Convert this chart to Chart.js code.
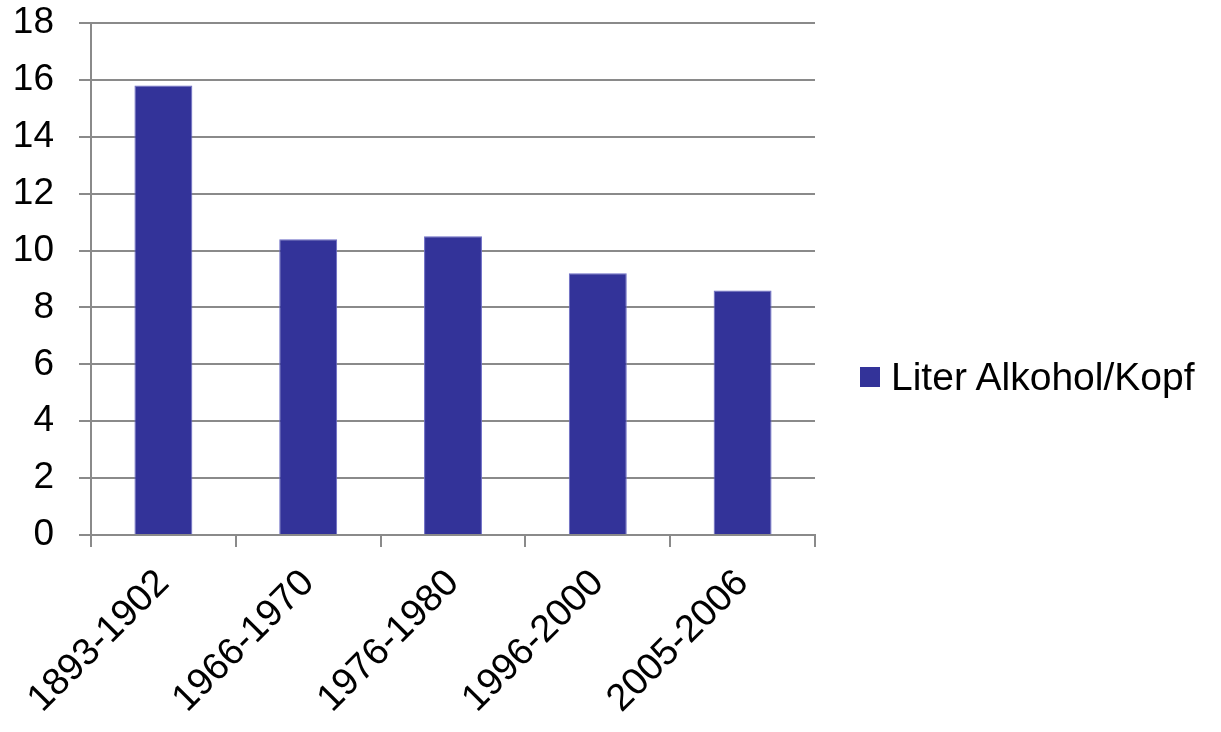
<!DOCTYPE html>
<html>
<head>
<meta charset="utf-8">
<script src="https://cdn.jsdelivr.net/npm/chart.js@4/dist/chart.umd.min.js"></script>
<style>
    html, body { margin: 0; padding: 0; background: #fff; }
    #wrap { position: relative; width: 1221px; height: 732px; }
    #legende {
        position: absolute; left: 860px; top: 357px;
        font: 39px 'Liberation Sans', Arial, sans-serif;
        line-height: 39px; color: #000; white-space: nowrap;
    }
    #legende .kasten {
        position: absolute; left: 0; top: 10px;
        width: 20px; height: 20px; background: #333399;
    }
    #legende .text { position: absolute; left: 31px; top: 0; }
</style>
</head>
<body>
<div id="wrap">
    <canvas id="chartAlkohol"></canvas>
    <div id="legende"><span class="kasten"></span><span class="text"></span></div>
</div>
<script>
// Zeiträume und Verbrauch pro Kopf
const zeitraeume = ['1893-1902', '1966-1970', '1976-1980', '1996-2000', '2005-2006'];
const literProKopf = [15.8, 10.4, 10.5, 9.2, 8.6];
const serieName = 'Liter Alkohol/Kopf';

const FONT = "'Liberation Sans', Arial, sans-serif";
const GRAU = '#8a8a8a';
const BALKEN = '#333399';

document.querySelector('#legende .text').textContent = serieName;

const ctx = document.getElementById('chartAlkohol').getContext('2d');

new Chart(ctx, {
    type: 'bar',
    data: {
        labels: zeitraeume,
        datasets: [{
            label: serieName,
            data: literProKopf,
            backgroundColor: BALKEN,
            borderColor: '#6a6ac4',
            borderWidth: 1,
            barPercentage: 0.4,
            categoryPercentage: 1.0
        }]
    },
    options: {
        responsive: true,
        maintainAspectRatio: false,
        animation: false,
        // rechts bleibt Platz für die Legende
        layout: { padding: { left: 0, top: 23, right: 406, bottom: 0 } },
        plugins: {
            tooltip: { enabled: false },
            legend: { display: false }
        },
        scales: {
            x: {
                afterFit: (scale) => {
                    scale.paddingLeft = 0;
                    scale.paddingRight = 0;
                    scale.height = 197;
                },
                grid: {
                    offset: true,
                    drawOnChartArea: false,
                    color: GRAU,
                    lineWidth: 2,
                    tickLength: 12
                },
                border: { color: GRAU, width: 2 },
                ticks: {
                    color: '#000',
                    font: { family: FONT, size: 38 },
                    minRotation: 45,
                    maxRotation: 45,
                    autoSkip: false,
                    padding: 14
                }
            },
            y: {
                min: 0,
                max: 18,
                afterFit: (scale) => {
                    scale.paddingTop = 0;
                    scale.paddingBottom = 0;
                    scale.width = 91;
                },
                grid: {
                    color: GRAU,
                    lineWidth: 2,
                    tickLength: 12
                },
                border: { color: GRAU, width: 2 },
                ticks: {
                    stepSize: 2,
                    color: '#000',
                    font: { family: FONT, size: 37 },
                    padding: 25
                }
            }
        }
    }
});
</script>
</body>
</html>
